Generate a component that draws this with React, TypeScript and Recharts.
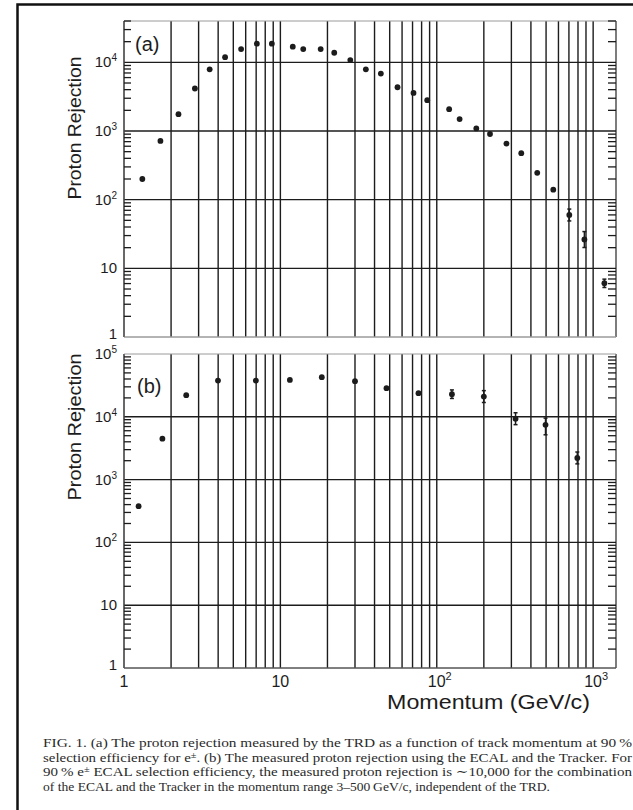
import { ScatterChart, Scatter, XAxis, YAxis, CartesianGrid, ReferenceLine, ReferenceArea, ErrorBar } from 'recharts';

// panel (a): TRD proton rejection vs momentum
const momentumA = [1.31, 1.71, 2.23, 2.84, 3.53, 4.43, 5.61, 7.07, 8.82, 12.0, 14.0, 18.1, 22.1, 28.0, 35.2, 43.9, 56.1, 71.0, 86.9, 120, 140, 179, 219, 279, 347, 439, 556, 704, 879, 1180];
const rejectionA = [200, 716, 1760, 4160, 7920, 11900, 15600, 18700, 18700, 16900, 15600, 15600, 13800, 10800, 7920, 6860, 4340, 3590, 2810, 2080, 1490, 1090, 905, 655, 475, 246, 140, 60, 26.3, 6.06];
const errLowA = [0, 0, 0, 0, 0, 0, 0, 0, 0, 0, 0, 0, 0, 0, 0, 0, 0, 0, 0, 0, 0, 0, 0, 0, 0, 0, 0, 11, 6.2, 0.8];
const errHighA = [0, 0, 0, 0, 0, 0, 0, 0, 0, 0, 0, 0, 0, 0, 0, 0, 0, 0, 0, 0, 0, 0, 0, 0, 0, 0, 0, 13, 8, 0.9];

// panel (b): ECAL + Tracker proton rejection
const momentumB = [1.24, 1.76, 2.5, 3.99, 6.97, 11.5, 18.4, 30.0, 47.7, 76.4, 125, 200, 319, 496, 792];
const rejectionB = [377, 4480, 22100, 37700, 37700, 38700, 42700, 36900, 28600, 23800, 22900, 21000, 9300, 7460, 2210];
const errLowB = [0, 0, 0, 0, 0, 0, 0, 0, 0, 0, 3300, 4100, 1800, 2290, 430];
const errHighB = [0, 0, 0, 0, 0, 0, 0, 0, 0, 0, 3900, 5100, 2300, 2070, 540];

// caption, split where e± needs a superscript
const captionLines = [
  ['FIG. 1. (a) The proton rejection measured by the TRD as a function of track momentum at 90\u2009%'],
  ['selection efficiency for e', '. (b) The measured proton rejection using the ECAL and the Tracker. For'],
  ['90\u2009% e', ' ECAL selection efficiency, the measured proton rejection is \u223c10,000 for the combination'],
  ['of the ECAL and the Tracker in the momentum range 3\u2013500\u2009GeV/c, independent of the TRD.'],
];

const X_MAX = 1400;
const PLOT_W = 492;
const SANS = '"Liberation Sans", Arial, Helvetica, sans-serif';
const SERIF = '"Liberation Serif", "DejaVu Serif", serif';
const INK = '#1c1c1c';

const logTicks = (maxExp: number, maxVal: number) => {
  const out: number[] = [];
  for (let e = 0; e <= maxExp; e++) {
    for (let m = 1; m <= 9; m++) {
      const v = m * Math.pow(10, e);
      if (v <= maxVal) out.push(v);
    }
  }
  return out;
};

const decadeOf = (v: number) => {
  const e = Math.round(Math.log10(v));
  return Math.abs(Math.log10(v) - e) < 1e-6 ? e : -1;
};

const makeRows = (xs: number[], ys: number[], lo: number[], hi: number[]) =>
  xs.map((p, i) => ({ p, r: ys[i], err: [lo[i], hi[i]] }));

const Dot = (props: any) => <circle cx={props.cx} cy={props.cy} r={2.9} fill={INK} />;

const YTick = (props: any) => {
  const { x, y, payload } = props;
  const e = decadeOf(payload.value);
  if (e < 0) {
    return (
      <g>
        <line x1={x} x2={x + 7} y1={y} y2={y} stroke={INK} strokeWidth={1.3} />
        <line x1={x + PLOT_W - 8} x2={x + PLOT_W} y1={y} y2={y} stroke={INK} strokeWidth={1.3} />
      </g>
    );
  }
  return (
    <text x={x - 7} y={y + (e === 0 ? 2 : 5)} textAnchor="end" fontSize={15} fontFamily={SANS} fill={INK}>
      {e === 0 ? '1' : '10'}
      {e > 1 && <tspan dy={-6} fontSize={10}>{e}</tspan>}
    </text>
  );
};

const XTick = (props: any) => {
  const { x, y, payload } = props;
  const e = decadeOf(payload.value);
  if (e < 0) return <g />;
  return (
    <text x={x + (e > 1 ? 3 : 0)} y={y + 19} textAnchor="middle" fontSize={16} fontFamily={SANS} fill={INK}>
      {e === 0 ? '1' : '10'}
      {e > 1 && <tspan dy={-7} fontSize={11}>{e}</tspan>}
    </text>
  );
};

const NoTick = () => <g />;

function Panel({ rows, yMax, maxExp, top, height, marginTop, xAxisHeight, showX }: any) {
  const yTicks = logTicks(maxExp, yMax);
  const xTicks = logTicks(3, X_MAX);
  const decades = yTicks.filter((v) => decadeOf(v) > 0 && v < yMax);
  const plain = rows.filter((d: any) => d.err[0] === 0 && d.err[1] === 0);
  const withErr = rows.filter((d: any) => d.err[0] > 0 || d.err[1] > 0);
  return (
    <div style={{ position: 'absolute', left: 0, top }}>
      <ScatterChart width={633} height={height} margin={{ top: marginTop, right: 17, bottom: 0, left: 0 }}>
        <CartesianGrid horizontal={false} stroke={INK} strokeWidth={1.4} />
        <ReferenceArea x1={1} x2={X_MAX} y1={1} y2={yMax} fill="none" stroke="#9a9a9a" strokeWidth={1} />
        {decades.map((d: number) => (
          <ReferenceLine key={d} y={d} stroke={INK} strokeWidth={1.4} />
        ))}
        <XAxis
          dataKey="p"
          type="number"
          scale="log"
          domain={[1, X_MAX]}
          allowDataOverflow
          ticks={xTicks}
          interval={0}
          height={xAxisHeight}
          tickLine={false}
          tickSize={0}
          tickMargin={0}
          axisLine={{ stroke: showX ? '#333' : '#9a9a9a' }}
          tick={showX ? <XTick /> : <NoTick />}
        />
        <YAxis
          dataKey="r"
          type="number"
          scale="log"
          domain={[1, yMax]}
          allowDataOverflow
          ticks={yTicks}
          interval={0}
          width={124}
          tickLine={false}
          tickSize={0}
          tickMargin={0}
          axisLine={{ stroke: '#555' }}
          tick={<YTick />}
        />
        <Scatter data={plain} shape={<Dot />} isAnimationActive={false} />
        <Scatter data={withErr} shape={<Dot />} isAnimationActive={false}>
          <ErrorBar dataKey="err" direction="y" width={2} stroke={INK} strokeWidth={1.5} />
        </Scatter>
      </ScatterChart>
    </div>
  );
}

export default function App() {
  const rowsA = makeRows(momentumA, rejectionA, errLowA, errHighA);
  const rowsB = makeRows(momentumB, rejectionB, errLowB, errHighB);
  return (
    <div style={{ position: 'absolute', left: 0, top: 0, width: 633, height: 810, background: '#fff', overflow: 'hidden' }}>
      <Panel rows={rowsA} yMax={40000} maxExp={4} top={0} height={345} marginTop={21} xAxisHeight={8} showX={false} />
      <Panel rows={rowsB} yMax={100000} maxExp={5} top={340} height={400} marginTop={14} xAxisHeight={72} showX />
      <svg width={633} height={810} style={{ position: 'absolute', left: 0, top: 0, pointerEvents: 'none' }}>
        <path d="M17.5 810 V4.5 H633" fill="none" stroke="#111" strokeWidth={2.5} />
        <text x={135} y={51} fontSize={20} fontFamily={SANS} fill={INK}>(a)</text>
        <text x={137} y={393} fontSize={20} fontFamily={SANS} fill={INK}>(b)</text>
        <text x={81} y={128} transform="rotate(-90 81 128)" textAnchor="middle" fontSize={19} fontFamily={SANS} fill={INK} textLength={143} lengthAdjust="spacingAndGlyphs">
          Proton Rejection
        </text>
        <text x={81} y={427} transform="rotate(-90 81 427)" textAnchor="middle" fontSize={19} fontFamily={SANS} fill={INK} textLength={147} lengthAdjust="spacingAndGlyphs">
          Proton Rejection
        </text>
        <text x={387} y={709} fontSize={20} fontFamily={SANS} fill={INK} textLength={203} lengthAdjust="spacingAndGlyphs">
          Momentum (GeV/c)
        </text>
        {captionLines.map((parts, i) => (
          <text
            key={i}
            x={43}
            y={747 + i * 14.7}
            fontSize={13}
            fontFamily={SERIF}
            fill="#2a2a2a"
            textLength={i < 3 ? 589 : 507}
            lengthAdjust="spacingAndGlyphs"
          >
            {parts[0]}
            {parts.length > 1 && (
              <>
                <tspan dy={-4} fontSize={9}>{'\u00b1'}</tspan>
                <tspan dy={4}>{parts[1]}</tspan>
              </>
            )}
          </text>
        ))}
      </svg>
    </div>
  );
}
